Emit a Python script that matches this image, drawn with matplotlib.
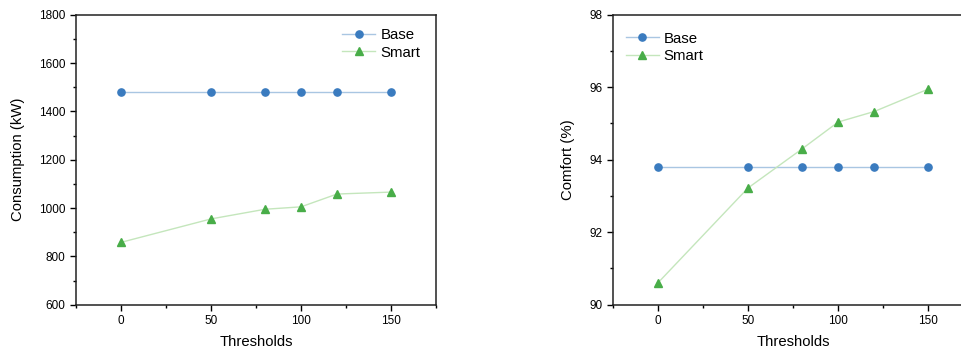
import matplotlib
matplotlib.use("Agg")
import matplotlib.pyplot as plt
from matplotlib.ticker import MultipleLocator

plt.rcParams['font.family'] = ['Liberation Sans', 'DejaVu Sans']

thresholds = [0, 50, 80, 100, 120, 150]
consumption_base = [1480, 1480, 1480, 1480, 1480, 1480]
consumption_smart = [858, 955, 995, 1005, 1058, 1066]
comfort_base = [93.8, 93.8, 93.8, 93.8, 93.8, 93.8]
comfort_smart = [90.6, 93.22, 94.3, 95.04, 95.33, 95.95]

base_marker = '#3a7bbf'
base_line = '#a9c6e2'
smart_marker = '#48ad48'
smart_line = '#c4e6bc'

fig = plt.figure(figsize=(9.61, 3.53), dpi=100)
ax1 = fig.add_axes([0.0791, 0.1368, 0.3746, 0.8215])
ax2 = fig.add_axes([0.6376, 0.1368, 0.3754, 0.8215])


def style(ax, ylim, ymaj, ymin, ylabel):
    ax.set_xlim(-25, 175)
    ax.set_ylim(*ylim)
    ax.xaxis.set_major_locator(MultipleLocator(50))
    ax.xaxis.set_minor_locator(MultipleLocator(25))
    ax.yaxis.set_major_locator(MultipleLocator(ymaj))
    ax.yaxis.set_minor_locator(MultipleLocator(ymin))
    ax.set_xticks([0, 50, 100, 150])
    ax.tick_params(which='major', direction='out', length=4, width=1, labelsize=8.5, colors='black')
    ax.tick_params(which='minor', direction='out', length=2.5, width=1)
    ax.tick_params(top=False, right=False, which='both')
    for s in ax.spines.values():
        s.set_linewidth(1.1)
        s.set_color('#222222')
    ax.set_xlabel('Thresholds', fontsize=10.7, labelpad=6)
    ax.set_ylabel(ylabel, fontsize=10.7, labelpad=10)


legend_kw = dict(frameon=False, fontsize=10.8, handlelength=2.2, handletextpad=0.35,
                 labelspacing=0.25, borderaxespad=0)

ax1.plot(thresholds, consumption_base, color=base_line, lw=1, marker='o', ms=5.2,
         mfc=base_marker, mec=base_marker, label='Base')
ax1.plot(thresholds, consumption_smart, color=smart_line, lw=1, marker='^', ms=6.2,
         mfc=smart_marker, mec=smart_marker, label='Smart')
style(ax1, (600, 1800), 200, 100, 'Consumption (kW)')
ax1.legend(loc='upper right', bbox_to_anchor=(0.974, 0.975), **legend_kw)

ax2.plot(thresholds, comfort_base, color=base_line, lw=1, marker='o', ms=5.2,
         mfc=base_marker, mec=base_marker, label='Base')
ax2.plot(thresholds, comfort_smart, color=smart_line, lw=1, marker='^', ms=6.2,
         mfc=smart_marker, mec=smart_marker, label='Smart')
style(ax2, (90, 98), 2, 1, 'Comfort (%)')
ax2.legend(loc='upper left', bbox_to_anchor=(0.019, 0.962), **legend_kw)

fig.savefig('out.png', dpi=100)
